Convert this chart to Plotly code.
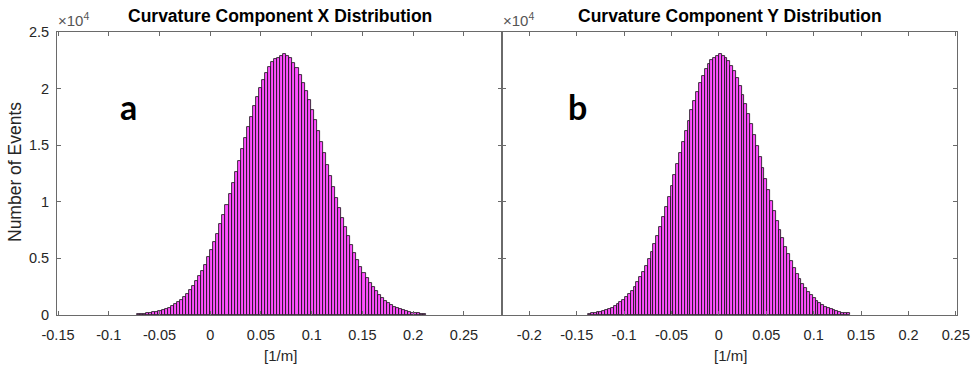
import plotly.graph_objects as go

# ---------------- data ----------------
bin_width = 0.003
left_first_center = -0.0705
right_first_center = -0.1365

left_counts = [
    70, 95, 120, 150, 195, 240, 290, 370, 450, 540,
    660, 800, 950, 1140, 1350, 1600, 1890, 2200, 2560, 2970,
    3420, 3930, 4460, 5080, 5740, 6450, 7190, 8020, 8870, 9750,
    10690, 11640, 12630, 13610, 14640, 15600, 16580, 17510, 18420, 19280,
    20040, 20770, 21410, 21900, 22380, 22650, 22720, 22900, 23100, 22850,
    22680, 22300, 21780, 21230, 20520, 19800, 18990, 18120, 17210, 16240,
    15280, 14290, 13280, 12300, 11320, 10370, 9450, 8570, 7740, 6940,
    6200, 5500, 4870, 4280, 3740, 3270, 2820, 2440, 2090, 1780,
    1510, 1280, 1070, 900, 740, 620, 510, 410, 340, 275,
    220, 180, 140, 110, 90,
]

right_counts = [
    120, 155, 190, 240, 295, 360, 440, 540, 650, 780,
    940, 1120, 1330, 1570, 1840, 2150, 2510, 2900, 3340, 3830,
    4360, 4950, 5590, 6280, 7020, 7800, 8630, 9510, 10430, 11360,
    12330, 13300, 14280, 15260, 16230, 17180, 18080, 18940, 19740, 20480,
    21130, 21700, 22180, 22540, 22700, 22850, 23050, 22920, 22730, 22430,
    22030, 21520, 20920, 20240, 19470, 18660, 17770, 16860, 15900, 14930,
    13950, 12960, 12000, 11040, 10100, 9210, 8340, 7540, 6760, 6040,
    5370, 4740, 4180, 3660, 3190, 2760, 2380, 2050, 1750, 1490,
    1250, 1050, 880, 740, 610, 500, 410, 340, 275, 220,
    180, 140,
]

left_centers = [left_first_center + bin_width * i for i in range(len(left_counts))]
right_centers = [right_first_center + bin_width * i for i in range(len(right_counts))]

left_xticks = [-0.15, -0.1, -0.05, 0, 0.05, 0.1, 0.15, 0.2, 0.25]
left_xtick_text = ["-0.15", "-0.1", "-0.05", "0", "0.05", "0.1", "0.15", "0.2", "0.25"]
right_xticks = [-0.2, -0.15, -0.1, -0.05, 0, 0.05, 0.1, 0.15, 0.2, 0.25]
right_xtick_text = ["-0.2", "-0.15", "-0.1", "-0.05", "0", "0.05", "0.1", "0.15", "0.2", "0.25"]
yticks = [0, 5000, 10000, 15000, 20000, 25000]
ytick_text = ["0", "0.5", "1", "1.5", "2", "2.5"]

titles = ["Curvature Component X Distribution", "Curvature Component Y Distribution"]
panel_letters = ["a", "b"]

# ---------------- style ----------------
FACE = "rgb(255,80,255)"
EDGE = "rgb(15,15,15)"
AXC = "#6a6a6a"
TXT = "#262626"
FONT = "Liberation Sans, Arial, sans-serif"

W, H = 972, 370
def px(x):
    return x / W
def py(y):
    return 1 - y / H

L_x0, L_x1 = 57, 502
R_x0, R_x1 = 502, 957
Y_top, Y_bot = 32, 315

fig = go.Figure()
fig.add_trace(go.Bar(x=left_centers, y=left_counts, width=bin_width,
                     marker=dict(color=FACE, line=dict(color=EDGE, width=0.8)),
                     xaxis="x", yaxis="y", showlegend=False))
fig.add_trace(go.Bar(x=right_centers, y=right_counts, width=bin_width,
                     marker=dict(color=FACE, line=dict(color=EDGE, width=0.8)),
                     xaxis="x2", yaxis="y2", showlegend=False))

axis_common = dict(showgrid=False, zeroline=False, showline=True, linecolor=AXC,
                   linewidth=1, mirror="ticks", ticks="inside", ticklen=4,
                   tickcolor=AXC, tickwidth=1, automargin=False,
                   tickfont=dict(family=FONT, size=14.5, color=TXT))

fig.update_layout(
    width=W, height=H, margin=dict(l=0, r=0, t=0, b=0, pad=0),
    paper_bgcolor="white", plot_bgcolor="white", bargap=0,
    xaxis=dict(domain=[px(L_x0), px(L_x1)], range=[-0.151, 0.2875],
               tickvals=left_xticks, ticktext=left_xtick_text, anchor="y",
               ticklabelstandoff=7, **axis_common),
    yaxis=dict(domain=[py(Y_bot), py(Y_top)], range=[0, 25000],
               tickvals=yticks, ticktext=ytick_text, anchor="x",
               ticklabelstandoff=4, **axis_common),
    xaxis2=dict(domain=[px(R_x0), px(R_x1)], range=[-0.2288, 0.2512],
                tickvals=right_xticks, ticktext=right_xtick_text, anchor="y2",
                ticklabelstandoff=7, **axis_common),
    yaxis2=dict(domain=[py(Y_bot), py(Y_top)], range=[0, 25000],
                tickvals=yticks, showticklabels=False, anchor="x2", **axis_common),
)

ann = []
# titles
for t, cx in zip(titles, [280, 730]):
    ann.append(dict(text="<b>" + t + "</b>", x=px(cx), y=py(15.5), xref="paper", yref="paper",
                    showarrow=False, xanchor="center", yanchor="middle",
                    font=dict(family=FONT, size=17.5, color="black")))
# x10^4 multipliers
for x0 in [L_x0, R_x0]:
    ann.append(dict(text="×10<sup>4</sup>", x=px(x0 - 1), y=py(19), xref="paper", yref="paper",
                    showarrow=False, xanchor="left", yanchor="middle",
                    font=dict(family=FONT, size=15, color="#555555")))
# x axis labels
for cx in [280, 730]:
    ann.append(dict(text="[1/m]", x=px(cx), y=py(355), xref="paper", yref="paper",
                    showarrow=False, xanchor="center", yanchor="middle",
                    font=dict(family=FONT, size=15, color=TXT)))
# y axis label
ann.append(dict(text="Number of Events", x=px(15), y=py(172), xref="paper", yref="paper",
                showarrow=False, xanchor="center", yanchor="middle", textangle=-90,
                font=dict(family=FONT, size=17.5, color=TXT)))
# panel letters
for letter, cx in zip(panel_letters, [128, 577]):
    ann.append(dict(text="<b>" + letter + "</b>", x=px(cx), y=py(107), xref="paper", yref="paper",
                    showarrow=False, xanchor="center", yanchor="middle",
                    font=dict(family="Lato, Open Sans, sans-serif", size=34, color="black")))
fig.update_layout(annotations=ann)

fig.write_html(
    "out.html",
    post_script="document.body.style.margin='0';document.body.style.padding='0';"
                "document.documentElement.style.margin='0';"
                "document.documentElement.style.overflow='hidden';",
)
